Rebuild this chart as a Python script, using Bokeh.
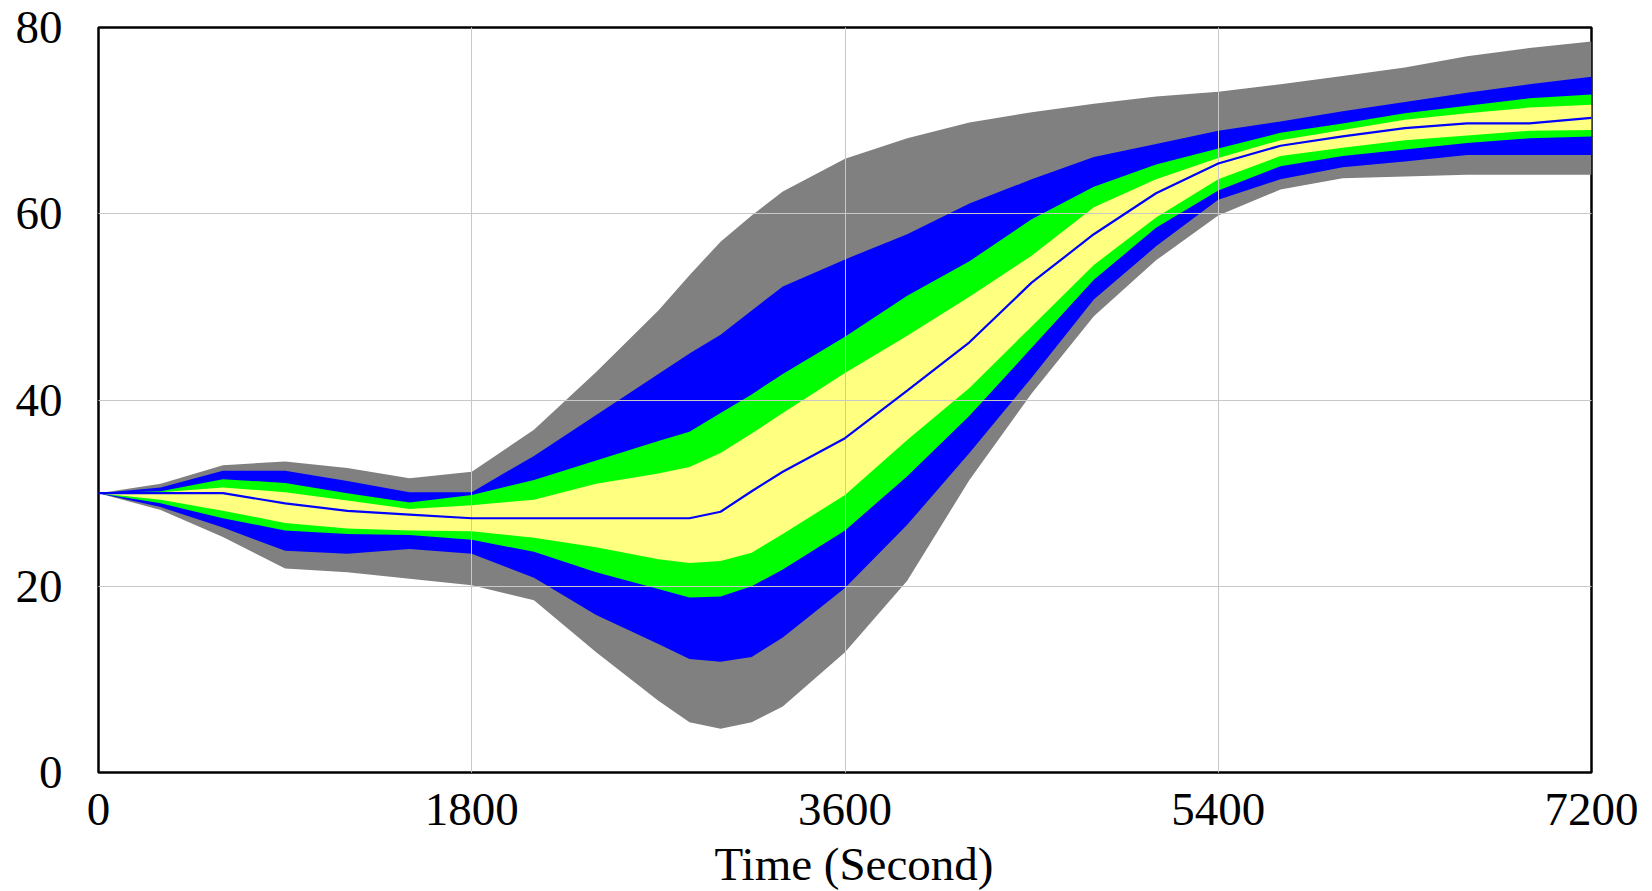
from bokeh.plotting import figure
from bokeh.models import Range1d, FixedTicker, ColumnDataSource, Div
from bokeh.layouts import column
from bokeh.embed import file_html
from bokeh.resources import INLINE

# Time (seconds)
time_s = [0, 300, 600, 900, 1200, 1500, 1800, 2100, 2400, 2700, 2850, 3000, 3150, 3300,
          3600, 3900, 4200, 4500, 4800, 5100, 5400, 5700, 6000, 6300, 6600, 6900, 7200]

# 100% band (gray)
gray_hi = [30, 31.0, 33.0, 33.4, 32.7, 31.6, 32.3, 36.8, 43.0, 49.6, 53.4, 57.0, 59.8, 62.4,
           65.9, 68.1, 69.8, 70.9, 71.8, 72.6, 73.1, 73.9, 74.8, 75.7, 76.9, 77.8, 78.5]
gray_lo = [30, 28.2, 25.3, 21.9, 21.5, 20.8, 20.1, 18.5, 12.9, 7.7, 5.4, 4.7, 5.4, 7.1,
           12.9, 20.6, 31.4, 40.7, 49.0, 55.0, 59.8, 62.6, 63.8, 64.0, 64.2, 64.2, 64.2]
# 95% band (blue)
blue_hi = [30, 30.6, 32.4, 32.4, 31.3, 30.1, 30.1, 34.0, 38.4, 42.8, 45.0, 47.0, 49.6, 52.2,
           55.1, 57.8, 61.1, 63.7, 66.1, 67.5, 68.9, 69.9, 71.0, 72.0, 73.0, 73.9, 74.7]
blue_lo = [30, 28.5, 26.3, 23.8, 23.5, 24.0, 23.5, 20.9, 16.9, 13.8, 12.2, 11.9, 12.4, 14.5,
           19.8, 26.6, 34.3, 42.4, 50.8, 56.5, 61.5, 63.7, 65.0, 65.6, 66.3, 66.3, 66.3]
# 75% band (green)
green_hi = [30, 30.2, 31.5, 31.1, 30.0, 29.0, 29.8, 31.4, 33.5, 35.6, 36.6, 38.6, 40.6, 42.8,
            46.8, 51.2, 54.9, 59.4, 62.9, 65.3, 67.0, 68.7, 69.7, 70.8, 71.6, 72.4, 72.8]
green_lo = [30, 28.9, 27.3, 26.0, 25.6, 25.5, 25.0, 23.7, 21.5, 19.7, 18.8, 18.9, 20.0, 21.8,
            26.0, 31.8, 38.3, 45.6, 52.9, 58.5, 62.5, 65.1, 66.2, 66.9, 67.6, 68.1, 68.3]
# 50% band (yellow)
yellow_hi = [30, 30.1, 30.6, 30.1, 29.2, 28.3, 28.7, 29.3, 31.0, 32.1, 32.8, 34.3, 36.4, 38.6,
             42.9, 46.9, 51.1, 55.5, 60.7, 63.7, 66.0, 67.9, 69.0, 70.1, 70.8, 71.4, 71.7]
yellow_lo = [30, 29.3, 28.1, 26.8, 26.2, 26.0, 25.9, 25.2, 24.2, 22.9, 22.5, 22.7, 23.6, 25.6,
             29.8, 35.7, 41.3, 47.9, 54.5, 59.6, 63.7, 66.2, 67.1, 67.9, 68.4, 68.9, 69.0]
# median
median = [30, 30.0, 30.0, 28.9, 28.1, 27.7, 27.3, 27.3, 27.3, 27.3, 27.3, 28.0, 30.2, 32.3,
          35.9, 41.0, 46.2, 52.6, 57.8, 62.2, 65.4, 67.3, 68.3, 69.2, 69.7, 69.7, 70.3]

x_ticks = [0, 1800, 3600, 5400, 7200]
y_ticks = [0, 20, 40, 60, 80]
x_title = "Time (Second)"

FONT = "Liberation Serif"

src = ColumnDataSource(dict(t=time_s, gh=gray_hi, gl=gray_lo, bh=blue_hi, bl=blue_lo,
                            nh=green_hi, nl=green_lo, yh=yellow_hi, yl=yellow_lo, m=median))

FIG_H = 847
p = figure(width=1652, height=FIG_H, x_range=Range1d(0, 7200), y_range=Range1d(0, 80),
           output_backend="svg", toolbar_location=None,
           min_border_left=98, min_border_right=61, min_border_top=27, min_border_bottom=FIG_H - 772)

p.varea(x="t", y1="gl", y2="gh", source=src, fill_color="#808080")
p.varea(x="t", y1="bl", y2="bh", source=src, fill_color="#0000FF")
p.varea(x="t", y1="nl", y2="nh", source=src, fill_color="#00FF00")
p.varea(x="t", y1="yl", y2="yh", source=src, fill_color="#FFFF80")
ml = p.line(x="t", y="m", source=src, line_color="#0000FF", line_width=2.2)
ml.level = "annotation"

p.xaxis.ticker = FixedTicker(ticks=x_ticks)
p.yaxis.ticker = FixedTicker(ticks=y_ticks)
for ax in (p.xaxis, p.yaxis):
    ax.axis_line_color = None
    ax.major_tick_line_color = None
    ax.minor_tick_line_color = None
    ax.major_tick_out = 0
    ax.major_tick_in = 0
    ax.major_label_text_font = FONT
    ax.major_label_text_font_size = "47px"
    ax.major_label_text_color = "black"
p.xaxis.major_label_standoff = 21
p.yaxis.major_label_standoff = 36

p.grid.grid_line_color = "#c8c8c8"
p.grid.grid_line_width = 1
p.grid.level = "guide"
p.outline_line_color = "black"
p.outline_line_width = 2.5
p.background_fill_color = "white"
p.border_fill_color = "white"

DIV_H = 891 - FIG_H
title_div = Div(text=f'<span style="position:relative; top:-5px">{x_title}</span>',
                width=1652, height=DIV_H, margin=0,
                styles={"font-family": FONT, "font-size": "47px", "line-height": f"{DIV_H}px",
                        "text-align": "center", "padding-left": "56px", "color": "black",
                        "width": "1652px", "box-sizing": "border-box", "white-space": "nowrap"})

layout = column(p, title_div, spacing=0)

open("out.html", "w").write(file_html(layout, INLINE))
